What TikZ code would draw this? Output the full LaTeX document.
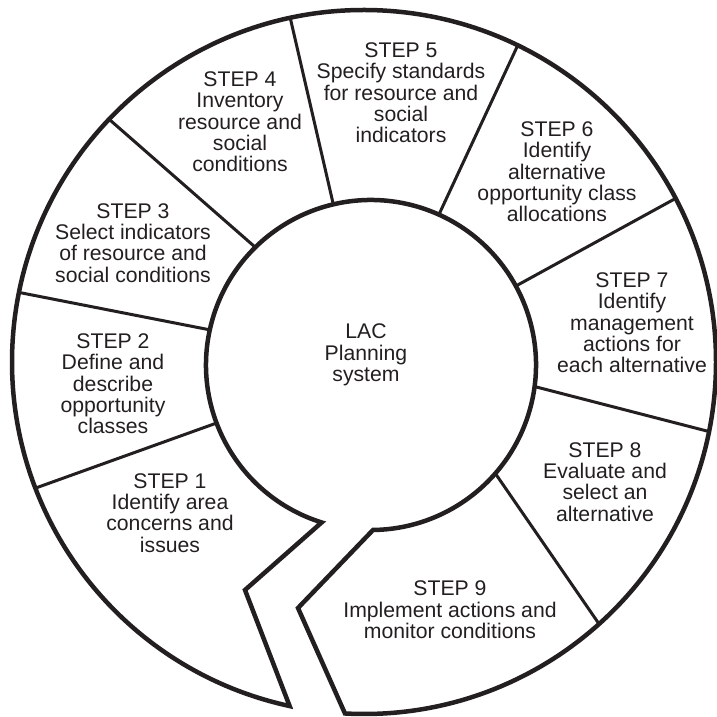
\documentclass[tikz,border=0pt]{standalone}
\usepackage{fontspec}
\setmainfont{Liberation Sans}
\usetikzlibrary{calc}
\definecolor{ink}{HTML}{231F20}

\begin{document}
\begin{tikzpicture}[
  x=1pt,
  y=1pt,
  ring/.style={draw=ink, line width=4.5pt, line join=miter},
  divider/.style={draw=ink, line width=3pt},
  stepnote/.style={text=ink, align=center, inner sep=0pt, font=\fontsize{21.2}{21.3}\selectfont}
]
  \useasboundingbox (0,0) rectangle (716,717);
  \coordinate (oc) at (364,355);
  \coordinate (ic) at (371,352);
  \coordinate (kink1) at (245,127);
  \coordinate (kink9) at (298,109);

  % ring, opened by the slit at the bottom
  \draw[ring] ($(oc)+(266.9:352)$) arc[start angle=266.9, end angle=617.8, radius=352]
    -- (kink1) -- ($(ic)+(252.6:165)$) arc[start angle=252.6, end angle=-89.3, radius=165]
    -- (kink9) -- cycle;

  % spokes between the steps
  \foreach \a/\b in {200.6/201.0, 167.7/168.6, 134.5/136.4, 103.2/102.1, 65.7/64.1, 28.6/27.7, -7.5/-11.4, -41.1/-48.1}
    \draw[divider] ($(ic)+(\a:165)$) -- ($(oc)+(\b:352)$);

  \node[stepnote] (lac) at (366,362) {LAC\\Planning\\system};
  \node[stepnote] (step1) at (170,204) {STEP 1\\Identify area\\concerns and\\issues};
  \node[stepnote] (step2) at (113,333) {STEP 2\\Define and\\describe\\opportunity\\classes};
  \node[stepnote] (step3) at (133,474) {STEP 3\\Select indicators\\of resource and\\social conditions};
  \node[stepnote] (step4) at (240,595) {STEP 4\\Inventory\\resource and\\social\\conditions};
  \node[stepnote] (step5) at (401,624) {STEP 5\\Specify standards\\for resource and\\social\\indicators};
  \node[stepnote] (step6) at (557,545) {STEP 6\\Identify\\alternative\\opportunity class\\allocations};
  \node[stepnote] (step7) at (632,394) {STEP 7\\Identify\\management\\actions for\\each alternative};
  \node[stepnote] (step8) at (605,235) {STEP 8\\Evaluate and\\select an\\alternative};
  \node[stepnote] (step9) at (450,107) {STEP 9\\Implement actions and\\monitor conditions};
\end{tikzpicture}
\end{document}
